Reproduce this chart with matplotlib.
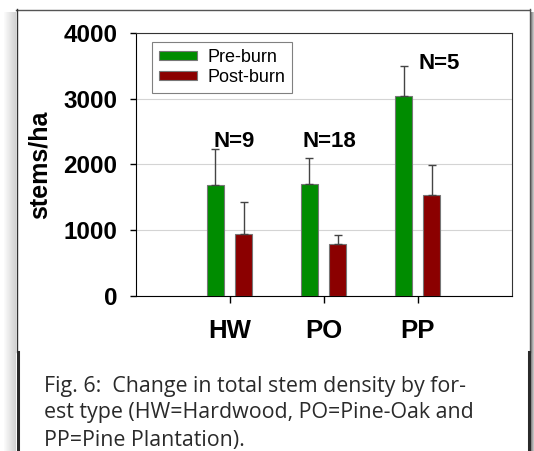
import matplotlib
matplotlib.use('Agg')
import matplotlib.pyplot as plt
from matplotlib.patches import Rectangle
from matplotlib.lines import Line2D
import numpy as np

# stem density by forest type (stems/ha)
forest_types = ['HW', 'PO', 'PP']
pre_burn = [1680, 1705, 3035]
post_burn = [934, 782, 1528]
# upper error bars only
pre_burn_err = [553, 391, 457]
post_burn_err = [497, 146, 461]
sample_sizes = ['N=9', 'N=18', 'N=5']
n_label_x = [0.05, 1.06, 2.23]
n_label_y = [2263, 2263, 3446]
y_ticks = [0, 1000, 2000, 3000, 4000]

caption_lines = ['Fig. 6:  Change in total stem density by for-',
                 'est type (HW=Hardwood, PO=Pine-Oak and',
                 'PP=Pine Plantation).']

green = '#008c00'
red = '#8b0000'

W, H = 534, 451
fig = plt.figure(figsize=(W / 100, H / 100), dpi=100)
fig.patch.set_facecolor('white')

#helper: pixel position -> figure fraction
def fx(x):
    return x / W
def fy(y):
    return 1 - y / H

#panel frame with a soft shadow on the left and right (kept behind the axes)
for i in range(12):
    a = 0.03 + 0.025 * i
    fig.add_artist(Rectangle((fx(4 + i), 0), 1 / W, fy(12), transform=fig.transFigure,
                             facecolor='#707070', edgecolor='none', alpha=a, zorder=-2))
for i in range(4):
    fig.add_artist(Rectangle((fx(530 + i), 0), 1 / W, fy(12), transform=fig.transFigure,
                             facecolor='#505050', edgecolor='none', alpha=0.8 - 0.15 * i, zorder=-2))
fig.add_artist(Rectangle((fx(16), fy(352)), fx(514), fy(9) - fy(352), transform=fig.transFigure,
                         facecolor='white', edgecolor='none', zorder=-1))
fig.add_artist(Rectangle((fx(19), 0), fx(509), fy(352), transform=fig.transFigure,
                         facecolor='white', edgecolor='none', zorder=-1))
fig.add_artist(Line2D([fx(16), fx(530)], [fy(9.5), fy(9.5)], transform=fig.transFigure, color='#555555', lw=1))
fig.add_artist(Line2D([fx(16.5), fx(16.5)], [fy(9), fy(352)], transform=fig.transFigure, color='#333333', lw=1))
fig.add_artist(Line2D([fx(530), fx(530)], [fy(9), fy(352)], transform=fig.transFigure, color='#555555', lw=1))
fig.add_artist(Line2D([fx(17.5), fx(17.5)], [fy(352), 0], transform=fig.transFigure, color='#2a2a2a', lw=2.2))
fig.add_artist(Line2D([fx(529), fx(529)], [fy(352), 0], transform=fig.transFigure, color='#2a2a2a', lw=2.2))

#chart
ax = fig.add_axes([fx(135.5), fy(295.7), 376.2 / W, 262.7 / H])
ax.set_zorder(1)
x = np.arange(len(forest_types))
err_style = dict(ecolor='#444444', elinewidth=1, capsize=3, capthick=1)
ax.bar(x - 0.15, pre_burn, 0.18, color=green, edgecolor='#777777', lw=0.8, zorder=3,
       yerr=[np.zeros(3), pre_burn_err], error_kw=err_style, label='Pre-burn')
ax.bar(x + 0.15, post_burn, 0.18, color=red, edgecolor='#777777', lw=0.8, zorder=3,
       yerr=[np.zeros(3), post_burn_err], error_kw=err_style, label='Post-burn')

for lx, ly, s in zip(n_label_x, n_label_y, sample_sizes):
    ax.text(lx, ly, s, ha='center', va='baseline', fontsize=16, fontweight='bold',
            family='Liberation Sans')

ax.set_xlim(-1.0, 3.0)
ax.set_ylim(0, 4000)
ax.set_yticks(y_ticks)
ax.set_xticks(x)
ax.set_xticklabels(forest_types)
ax.yaxis.grid(True, color='#d4d4d4', lw=0.8, zorder=0)
ax.set_axisbelow(True)

ax.tick_params(axis='y', length=4, width=1, pad=9, labelsize=17.5)
ax.tick_params(axis='x', length=5, width=1, pad=12, labelsize=18.5)
for lab in ax.get_xticklabels() + ax.get_yticklabels():
    lab.set_fontweight('bold')
    lab.set_family('Liberation Sans')
for side in ['top', 'right']:
    ax.spines[side].set_color('#333333')
for side in ['left', 'bottom']:
    ax.spines[side].set_color('black')

ax.set_ylabel('stems/ha', fontsize=18, fontweight='bold', family='Liberation Sans', va='center')
ax.yaxis.set_label_coords(-0.254, 0.5)

leg = ax.legend(loc='upper left', bbox_to_anchor=(0.0447, 0.967), borderaxespad=0,
                fancybox=False, edgecolor='#808080', framealpha=1,
                prop={'family': 'Liberation Sans', 'size': 13},
                handlelength=2.1, handleheight=0.39, labelspacing=0.17,
                borderpad=0.39, handletextpad=0.55)
leg.get_frame().set_linewidth(0.8)

#caption
for y, line in zip([391.7, 418.3, 446.0], caption_lines):
    fig.text(fx(44), fy(y), line, ha='left', va='baseline', fontsize=15.4,
             family='Open Sans', color='#2a2a2a')

fig.savefig('out.png', dpi=100)
